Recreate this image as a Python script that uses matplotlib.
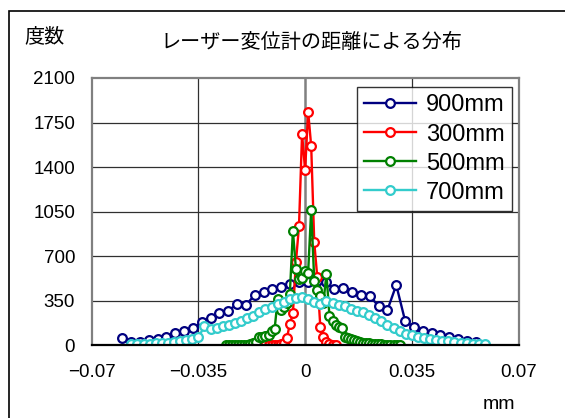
import matplotlib
matplotlib.use("Agg")
import matplotlib.pyplot as plt
from matplotlib.patches import Rectangle

plt.rcParams['font.family'] = ['Liberation Sans', 'Noto Sans CJK JP']
plt.rcParams['axes.unicode_minus'] = True

# 900mm
x900 = [-0.0600, -0.0571, -0.0542, -0.0513, -0.0484, -0.0455, -0.0426, -0.0397,
        -0.0368, -0.0339, -0.0310, -0.0281, -0.0252, -0.0223, -0.0194, -0.0165,
        -0.0136, -0.0107, -0.0078, -0.0049, -0.0020, 0.0009, 0.0038, 0.0067,
        0.0096, 0.0125, 0.0154, 0.0183, 0.0212, 0.0241, 0.0270, 0.0299,
        0.0328, 0.0357, 0.0386, 0.0415, 0.0444, 0.0473, 0.0502, 0.0531, 0.0560]
y900 = [53, 22, 22, 39, 47, 60, 91, 113, 131, 178, 215, 249, 270, 322, 314, 395,
        415, 440, 460, 476, 492, 497, 503, 492, 441, 446, 419, 393, 386, 306, 275, 472,
        191, 139, 113, 91, 79, 60, 44, 34, 22]

# 300mm
x300 = [-0.013, -0.012, -0.011, -0.010, -0.009, -0.008, -0.007, -0.006, -0.005, -0.004,
        -0.003, -0.002, -0.001, 0.000, 0.001, 0.002, 0.003, 0.004, 0.005, 0.006,
        0.007, 0.008, 0.009, 0.010]
y300 = [0, 0, 0, 0, 3, 5, 13, 53, 165, 249, 655, 936, 1660, 1376, 1835, 1565,
        808, 532, 139, 61, 21, 8, 3, 0]

# 500mm
x500 = [-0.026, -0.025, -0.024, -0.023, -0.022, -0.021, -0.020, -0.019, -0.018, -0.017,
        -0.016, -0.015, -0.014, -0.013, -0.012, -0.011, -0.010, -0.009, -0.008, -0.007,
        -0.006, -0.005, -0.004, -0.003, -0.002, -0.001, 0.000, 0.001, 0.002, 0.003,
        0.004, 0.005, 0.006, 0.007, 0.008, 0.009, 0.010, 0.011, 0.012, 0.013,
        0.014, 0.015, 0.016, 0.017, 0.018, 0.019, 0.020, 0.021, 0.022, 0.023,
        0.024, 0.025, 0.026, 0.027, 0.028, 0.029, 0.030, 0.031]
y500 = [0, 0, 0, 0, 0, 0, 2, 3, 5, 13, 20, 62, 65, 72, 82, 110, 125, 360, 275, 300,
        330, 405, 900, 595, 520, 530, 580, 570, 1065, 505, 435, 385, 330, 560, 225, 185,
        160, 140, 130, 65, 55, 45, 38, 30, 26, 18, 15, 12, 10, 8, 6, 5, 4, 3, 2, 2, 1, 0]

# 700mm
x700 = [-0.057, -0.055, -0.053, -0.051, -0.049, -0.047, -0.045, -0.043, -0.041, -0.039,
        -0.037, -0.035, -0.033, -0.031, -0.029, -0.027, -0.025, -0.023, -0.021, -0.019,
        -0.017, -0.015, -0.013, -0.011, -0.009, -0.007, -0.005, -0.003, -0.001, 0.001,
        0.003, 0.005, 0.007, 0.009, 0.011, 0.013, 0.015, 0.017, 0.019, 0.021,
        0.023, 0.025, 0.027, 0.029, 0.031, 0.033, 0.035, 0.037, 0.039, 0.041,
        0.043, 0.045, 0.047, 0.049, 0.051, 0.053, 0.055, 0.057, 0.059]
y700 = [8, 8, 8, 10, 12, 13, 16, 22, 28, 36, 45, 60, 150, 125, 135, 148, 158, 170, 190, 215,
        232, 262, 280, 300, 320, 335, 360, 372, 380, 360, 340, 322, 345, 330, 318, 305, 285,
        270, 258, 235, 210, 185, 160, 135, 110, 90, 75, 63, 53, 45, 38, 33, 28, 22, 18,
        14, 11, 9, 7]

series = [
    (x900, y900, '900mm', '#000080'),
    (x300, y300, '300mm', '#FF0000'),
    (x500, y500, '500mm', '#008000'),
    (x700, y700, '700mm', '#33CCCC'),
]

yticks = [0, 350, 700, 1050, 1400, 1750, 2100]
xticks = [-0.07, -0.035, 0, 0.035, 0.07]
xticklabels = ['\u22120.07', '\u22120.035', '0', '0.035', '0.07']

fig = plt.figure(figsize=(5.65, 4.18), dpi=100)
fig.patches.append(Rectangle((0.016, -0.1), 1.2, 1.0737, transform=fig.transFigure,
                             fill=False, edgecolor='black', linewidth=1.2))

ax = fig.add_axes([0.1623, 0.1746, 0.7554, 0.6388])
for x, y, label, color in series:
    ax.plot(x, y, '-o', color=color, linewidth=1.7, markersize=6.3,
            markerfacecolor='white', markeredgecolor=color, markeredgewidth=1.6,
            label=label)

ax.set_xlim(-0.07, 0.07)
ax.set_ylim(0, 2100)
ax.set_xticks(xticks)
ax.set_xticklabels(xticklabels)
ax.set_yticks(yticks)
ax.tick_params(length=0, labelsize=13.5)
ax.tick_params(axis='x', pad=14)
ax.tick_params(axis='y', pad=12)

for v in [-0.035, 0.035]:
    ax.axvline(v, color='#303030', linewidth=0.9, zorder=0)
ax.axvline(0, color='#808080', linewidth=1.8, zorder=0)
for v in yticks[1:-1]:
    ax.axhline(v, color='#303030', linewidth=0.9, zorder=0)

for side in ['left', 'top', 'right']:
    ax.spines[side].set_color('#808080')
    ax.spines[side].set_linewidth(1.6)
ax.spines['bottom'].set_color('black')
ax.spines['bottom'].set_linewidth(1.6)

leg = ax.legend(loc='upper right', bbox_to_anchor=(0.9836, 0.965), borderaxespad=0,
                fontsize=17, frameon=True, fancybox=False, handlelength=2.2,
                labelspacing=0.3, borderpad=0.3, handletextpad=0.4)
leg.get_frame().set_edgecolor('black')
leg.get_frame().set_linewidth(1.0)

fig.text(0.0796, 0.9115, '度数', fontsize=14.5, ha='center', va='center')
fig.text(0.5504, 0.8995, 'レーザー変位計の距離による分布', fontsize=14.5, ha='center', va='center')
fig.text(0.883, 0.033, 'mm', fontsize=14, ha='center', va='center')

fig.savefig('out.png', dpi=100)
